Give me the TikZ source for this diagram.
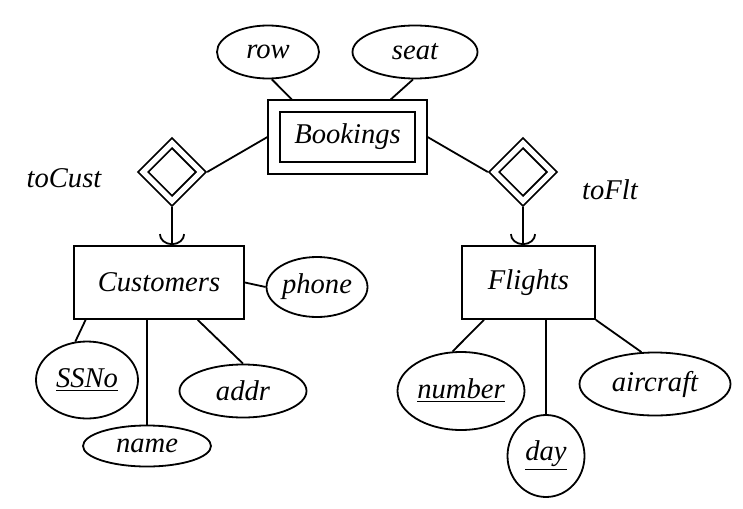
\documentclass[tikz,border=0pt]{standalone}
\usepackage{fontspec}
\setmainfont{Liberation Serif}
\usetikzlibrary{shapes.geometric}
\usetikzlibrary{arrows.meta}

\begin{document}
\begin{tikzpicture}[x=0.5pt, y=-0.5pt, line width=.9pt, font=\fontsize{14.3}{17}\selectfont\itshape]
\tikzset{entity/.style = {rectangle, draw, inner sep=0pt, minimum height=36.5pt}}
\tikzset{attr/.style = {ellipse, draw, inner sep=0pt}}
\tikzset{rel/.style = {diamond, draw, double, double distance=2.6pt, inner sep=0pt, minimum size=30.75pt, outer sep=2.2pt}}
\tikzset{edge/.style = {-{Arc Barb[length=5.5pt, width=13pt]}, line width=.9pt}}

\useasboundingbox (0, 0) rectangle (743, 508);

% weak entity set with its two supporting relationships
\node[entity, double, double distance=5pt, outer sep=3.4pt, minimum width=73.25pt, minimum height=30.75pt] (bookings) at (347.5, 137) {Bookings};
\node[rel] (tocust) at (172, 172) {};
\node[rel] (toflt) at (523, 172) {};
\node (tocustlbl) at (64, 178) {toCust};
\node (tofltlbl) at (610, 190) {toFlt};

\node[entity, minimum width=85pt] (customers) at (159, 282.5) {Customers};
\node[entity, minimum width=66.5pt] (flights) at (528.5, 282.5) {Flights};

% attributes
\node[attr, minimum width=51pt, minimum height=26.5pt] (row) at (268, 52) {row};
\node[attr, minimum width=62.5pt, minimum height=26.5pt] (seat) at (415, 52) {seat};
\node[attr, minimum width=50.5pt, minimum height=30pt] (phone) at (317, 287) {phone};
\node[attr, minimum width=51pt, minimum height=38.5pt] (ssno) at (87, 380) {\underline{SSNo}};
\node[attr, minimum width=64pt, minimum height=20.5pt] (name) at (147, 446) {name};
\node[attr, minimum width=63.5pt, minimum height=26.5pt] (addr) at (243, 391) {addr};
\node[attr, minimum width=63.5pt, minimum height=39pt] (number) at (461, 391) {\underline{number}};
\node[attr, minimum width=38.5pt, minimum height=41pt] (day) at (546, 456) {\underline{day}};
\node[attr, minimum width=75.5pt, minimum height=31.5pt] (aircraft) at (655, 384) {aircraft};

\draw (row.-82) -- (bookings.146);
\draw (seat.-94) -- (bookings.41);
\draw (bookings.west) -- (tocust.east);
\draw (bookings.east) -- (toflt.west);
\draw[edge] (tocust.south) -- (tocust.south |- customers.north);
\draw[edge] (toflt.south) -- (toflt.south |- flights.north);

\draw (customers.east) -- (phone.west);
\draw (customers.-153) -- (ssno.107);
\draw (name.north |- customers.south) -- (name.north);
\draw (customers.-44) -- (addr.north);

\draw (flights.-140) -- (number.102);
\draw (day.north |- flights.south) -- (day.north);
\draw (flights.south east) -- (aircraft.113);

\end{tikzpicture}
\end{document}
